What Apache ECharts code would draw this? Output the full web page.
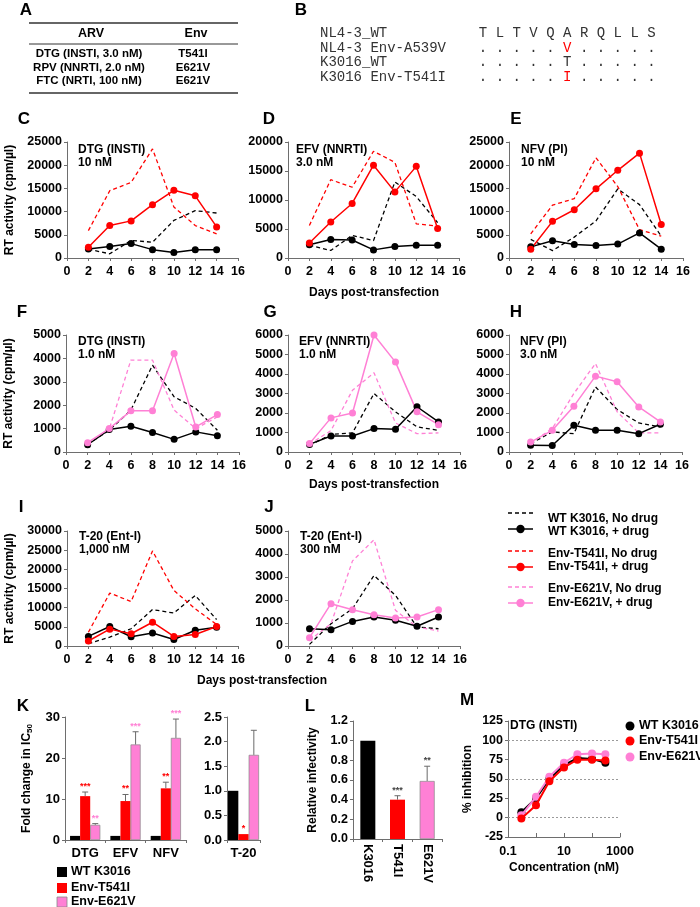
<!DOCTYPE html>
<html><head><meta charset="utf-8">
<script src="https://cdn.jsdelivr.net/npm/echarts@6/dist/echarts.min.js"></script>
<style>html,body{margin:0;padding:0;background:#fff}#c{width:700px;height:907px}</style>
</head><body><div id="c"></div><script>
const FONT = '"Liberation Sans", Arial, Helvetica, sans-serif';
const MONO = '"Liberation Mono", "Courier New", monospace';
const BLACK = '#000000', RED = '#ff0000', PINK = '#ff80d5', AXIS = '#6e6e6e';

// ---------- Panel A table ----------
const tableHead = ['ARV', 'Env'];
const tableArv = ['DTG (INSTI, 3.0 nM)', 'RPV (NNRTI, 2.0 nM)', 'FTC (NRTI, 100 nM)'];
const tableEnv = ['T541I', 'E621V', 'E621V'];

// ---------- Panel B sequences ----------
const seqNames = ['NL4-3_WT', 'NL4-3 Env-A539V', 'K3016_WT', 'K3016 Env-T541I'];
const seqRows = ['TLTVQARQLLS', '.....V.....', '.....T.....', '.....I.....'];
const seqRedCol = [-1, 5, -1, 5];

// ---------- Panels C-J : RT activity ----------
const days = [2, 4, 6, 8, 10, 12, 14];
// C DTG 10 nM
const cWtNoDrug  = [1900, 900, 3800, 3400, 8100, 10200, 9700];
const cWtDrug    = [1950, 2500, 3100, 1800, 1200, 1800, 1800];
const cMutNoDrug = [5900, 14500, 16300, 23500, 11000, 7000, 5200];
const cMutDrug   = [2300, 7000, 8000, 11500, 14600, 13400, 6700];
// D EFV 3.0 nM
const dWtNoDrug  = [2200, 1300, 3900, 3000, 13100, 10600, 6100];
const dWtDrug    = [2300, 3200, 3100, 1400, 2000, 2200, 2200];
const dMutNoDrug = [5600, 13500, 12200, 18400, 16500, 5900, 5500];
const dMutDrug   = [2600, 6200, 9400, 16000, 11400, 15800, 5100];
// E NFV 10 nM
const eWtNoDrug  = [4000, 1600, 4500, 8000, 14900, 11500, 4700];
const eWtDrug    = [2400, 3700, 2900, 2700, 3000, 5400, 1900];
const eMutNoDrug = [5200, 11400, 12800, 21600, 15400, 6100, 4700];
const eMutDrug   = [1900, 7900, 10400, 14900, 18900, 22600, 7200];
// F DTG 1.0 nM
const fWtNoDrug  = [330, 930, 1790, 3710, 2360, 1860, 930];
const fWtDrug    = [310, 960, 1100, 830, 540, 860, 690];
const fMutNoDrug = [360, 970, 3930, 3930, 1790, 1000, 1500];
const fMutDrug   = [400, 1000, 1760, 1760, 4210, 1070, 1600];
// G EFV 1.0 nM
const gWtNoDrug  = [340, 900, 980, 3000, 2060, 1290, 1110];
const gWtDrug    = [390, 820, 820, 1200, 1170, 2320, 1540];
const gMutNoDrug = [400, 1100, 3170, 4060, 1490, 940, 980];
const gMutDrug   = [430, 1750, 2000, 6000, 4610, 2060, 1400];
// H NFV 3.0 nM
const hWtNoDrug  = [430, 1030, 940, 3340, 2180, 1490, 1290];
const hWtDrug    = [340, 330, 1370, 1110, 1110, 940, 1420];
const hMutNoDrug = [460, 1200, 3000, 4540, 2060, 980, 980];
const hMutDrug   = [510, 1110, 2350, 3890, 3600, 2310, 1540];
// I T-20 1,000 nM
const iWtNoDrug  = [600, 2300, 4500, 9500, 8600, 13200, 6900];
const iWtDrug    = [2500, 5100, 2400, 3400, 1700, 4100, 4900];
const iMutNoDrug = [3600, 13800, 11600, 24800, 14500, 9700, 5600];
const iMutDrug   = [1300, 4400, 3200, 6200, 2500, 3000, 5100];
// J T-20 300 nM
const jWtNoDrug  = [70, 970, 1620, 3070, 2200, 830, 750];
const jWtDrug    = [750, 710, 1070, 1260, 1120, 860, 1260];
const jMutNoDrug = [250, 970, 3700, 4620, 1550, 830, 650];
const jMutDrug   = [360, 1840, 1580, 1360, 1220, 1260, 1580];

// ---------- Panel K ----------
const kDrugs = ['DTG', 'EFV', 'NFV'];
const kWt = [1, 1, 1];
const kT541I = [10.7, 9.5, 12.6];
const kE621V = [3.7, 23.3, 24.9];
const kT541IErr = [1.0, 1.6, 1.5];
const kE621VErr = [0.3, 3.1, 4.6];
const kT541IStars = ['***', '**', '**'];
const kE621VStars = ['**', '***', '***'];
const t20Cat = ['T-20'];
const t20Wt = [1.0];
const t20T541I = [0.12];
const t20E621V = [1.73];
const t20E621VErr = [0.5];
const t20T541IStars = ['*'];

// ---------- Panel L ----------
const lCats = ['K3016', 'T541I', 'E621V'];
const lValues = [1.0, 0.40, 0.59];
const lErr = [0, 0.04, 0.15];
const lStars = ['', '***', '**'];

// ---------- Panel M ----------
const mConc = [0.3, 1, 3, 10, 30, 100, 300];
const mWt = [7, 25, 50, 68, 77, 76, 71];
const mT541I = [-1, 16, 47, 65, 75, 75, 74];
const mE621V = [3, 27, 53, 71, 82, 83, 82];

// ================= build =================
const chart = echarts.init(document.getElementById('c'), null, {renderer: 'canvas'});
const grids = [], xAxes = [], yAxes = [], series = [];
const lbl = (extra) => Object.assign({color: '#000', fontFamily: FONT, fontWeight: 'bold', fontSize: 12.5}, extra || {});
const axLine = {show: true, onZero: false, lineStyle: {color: AXIS, width: 1}};
const tick = {show: true, length: 3, lineStyle: {color: AXIS}};
function addGrid(l, t, w, h) {
  grids.push({left: l, top: t, width: w, height: h, containLabel: false, outerBoundsMode: 'none'});
  return grids.length - 1;
}

const panelDefs = [
  {wtNo: cWtNoDrug, wtDrug: cWtDrug, mutNo: cMutNoDrug, mutDrug: cMutDrug, mut: 'Env-T541I', col: RED, max: 25000, step: 5000, box: [67, 142, 171, 116], yName: true},
  {wtNo: dWtNoDrug, wtDrug: dWtDrug, mutNo: dMutNoDrug, mutDrug: dMutDrug, mut: 'Env-T541I', col: RED, max: 20000, step: 5000, box: [288, 142, 171, 116]},
  {wtNo: eWtNoDrug, wtDrug: eWtDrug, mutNo: eMutNoDrug, mutDrug: eMutDrug, mut: 'Env-T541I', col: RED, max: 25000, step: 5000, box: [509, 142, 174, 116]},
  {wtNo: fWtNoDrug, wtDrug: fWtDrug, mutNo: fMutNoDrug, mutDrug: fMutDrug, mut: 'Env-E621V', col: PINK, max: 5000, step: 1000, box: [66, 335, 173, 117], yName: true},
  {wtNo: gWtNoDrug, wtDrug: gWtDrug, mutNo: gMutNoDrug, mutDrug: gMutDrug, mut: 'Env-E621V', col: PINK, max: 6000, step: 1000, box: [288, 335, 172, 117]},
  {wtNo: hWtNoDrug, wtDrug: hWtDrug, mutNo: hMutNoDrug, mutDrug: hMutDrug, mut: 'Env-E621V', col: PINK, max: 6000, step: 1000, box: [509, 335, 173, 117]},
  {wtNo: iWtNoDrug, wtDrug: iWtDrug, mutNo: iMutNoDrug, mutDrug: iMutDrug, mut: 'Env-T541I', col: RED, max: 30000, step: 5000, box: [67, 531, 171, 115], yName: true},
  {wtNo: jWtNoDrug, wtDrug: jWtDrug, mutNo: jMutNoDrug, mutDrug: jMutDrug, mut: 'Env-E621V', col: PINK, max: 5000, step: 1000, box: [288, 531, 172, 115]}
];
const pairs = arr => days.map((d, i) => [d, arr[i]]);
function dashed(name, color, data, gi) {
  return {type: 'line', name, xAxisIndex: gi, yAxisIndex: gi, data, showSymbol: false, symbol: 'none', z: 2,
    lineStyle: {color, width: 1.3, type: [4, 3]}, itemStyle: {color}, silent: true};
}
function solid(name, color, data, gi) {
  return {type: 'line', name, xAxisIndex: gi, yAxisIndex: gi, data, symbol: 'circle', symbolSize: 7, z: 3,
    lineStyle: {color, width: 1.5}, itemStyle: {color}, silent: true};
}
panelDefs.forEach(p => {
  const gi = addGrid(p.box[0], p.box[1], p.box[2], p.box[3]);
  xAxes.push({type: 'value', gridIndex: gi, min: 0, max: 16, interval: 2, axisLine: axLine, axisTick: tick,
    axisLabel: lbl({margin: 7}), splitLine: {show: false}});
  yAxes.push({type: 'value', gridIndex: gi, min: 0, max: p.max, interval: p.step, axisLine: axLine, axisTick: tick,
    axisLabel: lbl({margin: 5, formatter: v => String(v)}), splitLine: {show: false},
    name: p.yName ? 'RT activity (cpm/µl)' : '', nameLocation: 'middle', nameGap: 51,
    nameTextStyle: lbl({fontSize: 12})});
  series.push(dashed('WT K3016, No drug', BLACK, pairs(p.wtNo), gi));
  series.push(dashed(p.mut + ', No drug', p.col, pairs(p.mutNo), gi));
  series.push(solid('WT K3016, + drug', BLACK, pairs(p.wtDrug), gi));
  series.push(solid(p.mut + ', + drug', p.col, pairs(p.mutDrug), gi));
});

// error bars + stars
function errBars(gi, vals, errs, stars, starColor, pos, nBars, gapFrac) {
  return {
    type: 'custom', xAxisIndex: gi, yAxisIndex: gi, z: 10, silent: true,
    data: vals.map((v, i) => [i, v, errs[i]]),
    renderItem: function (params, api) {
      const idx = params.dataIndex;
      const v = api.value(1), e = api.value(2);
      const band = api.size([1, 0])[0];
      const bw = band * (1 - gapFrac) / nBars;
      const off = (pos - (nBars - 1) / 2) * bw;
      const p0 = api.coord([idx, v]);
      const p1 = api.coord([idx, v + e]);
      const x = p0[0] + off;
      const ch = [];
      if (e > 0) {
        ch.push({type: 'line', shape: {x1: x, y1: p0[1], x2: x, y2: p1[1]}, style: {stroke: '#6a6a6a', lineWidth: 1}});
        ch.push({type: 'line', shape: {x1: x - 3, y1: p1[1], x2: x + 3, y2: p1[1]}, style: {stroke: '#6a6a6a', lineWidth: 1}});
      }
      if (stars[idx]) ch.push({type: 'text', x: x, y: p1[1] - 1,
        style: {text: stars[idx], fill: starColor, font: 'bold 9px ' + FONT, align: 'center', verticalAlign: 'bottom'}});
      return {type: 'group', children: ch};
    }
  };
}
const barItem = (color) => color === PINK ? {color, borderColor: '#888', borderWidth: 0.7} : {color};

// K left
{
  const gi = addGrid(65, 717, 121, 123);
  xAxes.push({type: 'category', gridIndex: gi, data: kDrugs, axisLine: axLine, axisTick: tick,
    axisLabel: lbl({margin: 7, fontSize: 13}), splitLine: {show: false}});
  yAxes.push({type: 'value', gridIndex: gi, min: 0, max: 30, interval: 10, axisLine: axLine, axisTick: tick,
    axisLabel: lbl({margin: 5, fontSize: 13}), splitLine: {show: false},
    name: 'Fold change in IC{sub|50}', nameLocation: 'middle', nameGap: 31,
    nameTextStyle: lbl({fontSize: 12, rich: {sub: {fontSize: 8, fontWeight: 'bold', fontFamily: FONT, color: '#000', padding: [6, 0, 0, 0]}}})});
  [[kWt, BLACK, 'WT K3016'], [kT541I, RED, 'Env-T541I'], [kE621V, PINK, 'Env-E621V']].forEach(([d, c, n]) => {
    series.push({type: 'bar', name: n, xAxisIndex: gi, yAxisIndex: gi, data: d, barGap: '0%', barCategoryGap: '25%',
      itemStyle: barItem(c), silent: true});
  });
  series.push(errBars(gi, kT541I, kT541IErr, kT541IStars, RED, 1, 3, 0.25));
  series.push(errBars(gi, kE621V, kE621VErr, kE621VStars, PINK, 2, 3, 0.25));
}
// K right (T-20)
{
  const gi = addGrid(227, 717, 33, 123);
  xAxes.push({type: 'category', gridIndex: gi, data: t20Cat, axisLine: axLine, axisTick: tick,
    axisLabel: lbl({margin: 7, fontSize: 13}), splitLine: {show: false}});
  yAxes.push({type: 'value', gridIndex: gi, min: 0, max: 2.5, interval: 0.5, axisLine: axLine, axisTick: tick,
    axisLabel: lbl({margin: 5, fontSize: 13, formatter: v => v.toFixed(1)}), splitLine: {show: false}});
  [[t20Wt, BLACK, 'WT K3016'], [t20T541I, RED, 'Env-T541I'], [t20E621V, PINK, 'Env-E621V']].forEach(([d, c, n]) => {
    series.push({type: 'bar', name: n, xAxisIndex: gi, yAxisIndex: gi, data: d, barGap: '0%', barCategoryGap: '6%',
      itemStyle: barItem(c), silent: true});
  });
  series.push(errBars(gi, t20T541I, [0], t20T541IStars, RED, 1, 3, 0.06));
  series.push(errBars(gi, t20E621V, t20E621VErr, [''], PINK, 2, 3, 0.06));
}
// L
{
  const gi = addGrid(353, 721, 89, 118);
  xAxes.push({type: 'category', gridIndex: gi, data: lCats, axisLine: axLine, axisTick: tick,
    axisLabel: lbl({margin: 5, rotate: -90, fontSize: 13}), splitLine: {show: false}});
  yAxes.push({type: 'value', gridIndex: gi, min: 0, max: 1.2, interval: 0.2, axisLine: axLine, axisTick: tick,
    axisLabel: lbl({margin: 5, formatter: v => v.toFixed(1)}), splitLine: {show: false},
    name: 'Relative infectivity', nameLocation: 'middle', nameGap: 34, nameTextStyle: lbl({fontSize: 12})});
  const cols = [BLACK, RED, PINK];
  series.push({type: 'bar', name: 'L', xAxisIndex: gi, yAxisIndex: gi, barWidth: 15, silent: true,
    data: lValues.map((v, i) => ({value: v, itemStyle: barItem(cols[i])}))});
  series.push(errBars(gi, lValues, lErr, lStars, '#444', 0, 1, 0.5));
}
// M
{
  const gi = addGrid(508, 721, 112, 116);
  const names = {'-1': '0.1', '1': '10', '3': '1000'};
  xAxes.push({type: 'log', logBase: 10, gridIndex: gi, min: 0.1, max: 1000, axisLine: axLine,
    axisTick: {show: true, inside: true, length: 4, lineStyle: {color: AXIS}},
    axisLabel: lbl({margin: 8, formatter: v => names[String(Math.round(Math.log10(v)))] || ''}),
    splitLine: {show: false},
    name: 'Concentration (nM)', nameLocation: 'middle', nameGap: 25, nameTextStyle: lbl({fontSize: 12})});
  yAxes.push({type: 'value', gridIndex: gi, min: -25, max: 125, interval: 25, axisLine: axLine, axisTick: tick,
    axisLabel: lbl({margin: 5, formatter: v => String(v)}), splitLine: {show: false},
    name: '% inhibition', nameLocation: 'middle', nameGap: 34, nameTextStyle: lbl({fontSize: 12})});
  const mk = (name, color, vals, z, withMark) => {
    const s = {type: 'line', name, xAxisIndex: gi, yAxisIndex: gi, data: mConc.map((c, i) => [c, vals[i]]),
      symbol: 'circle', symbolSize: 8, z, lineStyle: {color, width: 2}, itemStyle: {color}, silent: true};
    if (withMark) s.markLine = {silent: true, symbol: ['none', 'none'], label: {show: false},
      lineStyle: {color: '#9a9a9a', width: 1, type: [2, 2]}, data: [{yAxis: 0}, {yAxis: 50}, {yAxis: 100}]};
    return s;
  };
  series.push(mk('WT K3016', BLACK, mWt, 3, true));
  series.push(mk('Env-E621V', PINK, mE621V, 4, false));
  series.push(mk('Env-T541I', RED, mT541I, 5, false));
}

// ================= graphics (text, legends, table) =================
const G = [];
const T = (text, x, y, o) => G.push({type: 'text', x, y, silent: true,
  style: Object.assign({text, fill: '#000', font: 'bold 12px ' + FONT, align: 'left', verticalAlign: 'middle'}, o || {})});
const Ln = (x1, y1, x2, y2, o) => G.push({type: 'line', silent: true, shape: {x1, y1, x2, y2},
  style: Object.assign({stroke: '#000', lineWidth: 1}, o || {})});
const Circ = (cx, cy, r, fill) => G.push({type: 'circle', silent: true, shape: {cx, cy, r}, style: {fill}});
const Rect = (x, y, w, h, fill, stroke) => G.push({type: 'rect', silent: true, shape: {x, y, width: w, height: h},
  style: {fill, stroke: stroke || null, lineWidth: stroke ? 0.8 : 0}});
const letter = (t, x, y) => T(t, x, y, {font: 'bold 17px ' + FONT, align: 'center'});

// panel letters
[['A', 26, 10], ['B', 301, 10], ['C', 24, 119], ['D', 269, 119], ['E', 516, 119], ['F', 22, 312], ['G', 270, 312],
 ['H', 516, 312], ['I', 21, 507], ['J', 269, 507], ['K', 23, 706], ['L', 310, 706], ['M', 467, 700]]
  .forEach(a => letter(a[0], a[1], a[2]));

// table A
Ln(29, 23, 238, 23, {stroke: '#333', lineWidth: 1.3});
Ln(29, 44, 238, 44, {stroke: '#333', lineWidth: 1});
Ln(29, 93, 238, 93, {stroke: '#333', lineWidth: 1.3});
T(tableHead[0], 91, 34, {align: 'center', font: 'bold 12.5px ' + FONT});
T(tableHead[1], 196, 34, {align: 'center', font: 'bold 12.5px ' + FONT});
const rowY = [54, 68, 81];
tableArv.forEach((t, i) => T(t, 89, rowY[i], {align: 'center', font: 'bold 11.5px ' + FONT}));
tableEnv.forEach((t, i) => T(t, 193, rowY[i], {align: 'center', font: 'bold 11.5px ' + FONT}));

// sequences B
const seqY = [33, 48, 62.5, 77];
seqNames.forEach((n, i) => T(n, 320, seqY[i], {font: '14px ' + MONO, fill: '#333'}));
seqRows.forEach((row, i) => row.split('').forEach((ch, k) =>
  T(ch, 483 + k * 16.85, seqY[i], {font: '14px ' + MONO, align: 'center', fill: k === seqRedCol[i] ? RED : '#333'})));

// in-plot annotations
[['DTG (INSTI)', '10 nM', 78, 150], ['EFV (NNRTI)', '3.0 nM', 296, 150], ['NFV (PI)', '10 nM', 521, 150],
 ['DTG (INSTI)', '1.0 nM', 78, 342], ['EFV (NNRTI)', '1.0 nM', 299, 342], ['NFV (PI)', '3.0 nM', 520, 342],
 ['T-20 (Ent-I)', '1,000 nM', 79, 537], ['T-20 (Ent-I)', '300 nM', 300, 537]]
  .forEach(a => { T(a[0], a[2], a[3]); T(a[1], a[2], a[3] + 12.5); });
T('DTG (INSTI)', 510, 726);

// x titles
T('Days post-transfection', 374, 293, {align: 'center'});
T('Days post-transfection', 374, 485, {align: 'center'});
T('Days post-transfection', 262, 681, {align: 'center'});

// legend for C-J
const legRows = [
  ['WT K3016, No drug', BLACK, true, 513, 519], ['WT K3016, + drug', BLACK, false, 529, 532],
  ['Env-T541I, No drug', RED, true, 551, 554], ['Env-T541I, + drug', RED, false, 567, 567],
  ['Env-E621V, No drug', PINK, true, 587, 589], ['Env-E621V, + drug', PINK, false, 603, 603]];
legRows.forEach(([t, c, d, ly, ty]) => {
  Ln(508, ly, 533, ly, {stroke: c, lineWidth: 1.5, lineDash: d ? [4, 3] : null});
  if (!d) Circ(520.5, ly, 4.2, c);
  T(t, 548, ty);
});
// legend K
[['WT K3016', BLACK, 872], ['Env-T541I', RED, 888], ['Env-E621V', PINK, 902]].forEach(([t, c, y]) => {
  Rect(57, y - 5, 10, 10, c, c === PINK ? '#888' : null);
  T(t, 71, y, {font: 'bold 12.5px ' + FONT});
});
// legend M
[['WT K3016', BLACK, 726], ['Env-T541I', RED, 741], ['Env-E621V', PINK, 757]].forEach(([t, c, y]) => {
  Circ(630, y, 4.5, c);
  T(t, 639, y, {font: 'bold 12.5px ' + FONT});
});

chart.setOption({
  animation: false,
  backgroundColor: '#fff',
  textStyle: {fontFamily: FONT},
  grid: grids, xAxis: xAxes, yAxis: yAxes, series,
  graphic: {elements: G}
});
</script></body></html>
